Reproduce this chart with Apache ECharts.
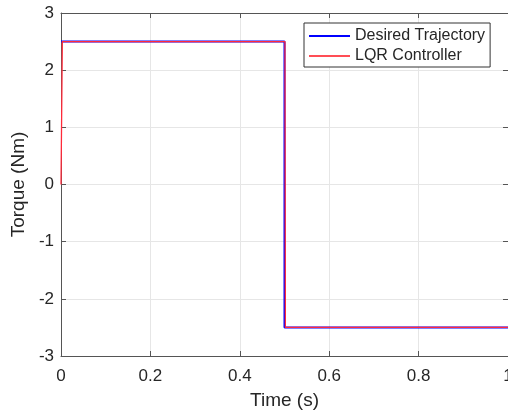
<!DOCTYPE html>
<html><head><meta charset="utf-8">
<script src="https://cdn.jsdelivr.net/npm/echarts@6/dist/echarts.min.js"></script>
<style>html,body{margin:0;padding:0;background:#fff}#c{width:508px;height:417px}</style>
</head><body><div id="c"></div>
<script>
var desiredTime = [0, 0.5, 0.5, 1];
var desiredTorque = [2.5, 2.5, -2.5, -2.5];
var lqrTime = [0, 0.003, 0.501, 0.502, 1];
var lqrTorque = [0, 2.5, 2.5, -2.5, -2.5];
var xTicks = [0, 0.2, 0.4, 0.6, 0.8, 1];
var yTicks = [-3, -2, -1, 0, 1, 2, 3];

function pairs(xs, ys){ return xs.map(function(x,i){ return [x, ys[i]]; }); }

var font = 'Liberation Sans, Arial, sans-serif';
var txt = '#262626';
var axisCol = '#555555';
var chart = echarts.init(document.getElementById('c'), null, {renderer:'canvas'});
chart.setOption({
  animation:false,
  backgroundColor:'#fff',
  grid:{left:61, top:13, right:0, bottom:61, containLabel:false, outerBoundsMode:'none'},
  legend:{
    orient:'vertical', left:304, top:23,
    data:[{name:'Desired Trajectory', icon:'rect'},{name:'LQR Controller', icon:'rect'}],
    backgroundColor:'#fff', borderColor:'#333', borderWidth:1,
    padding:[3,5,1,5], itemWidth:41, itemHeight:2, itemGap:0,
    textStyle:{fontFamily:font, fontSize:16, color:txt, lineHeight:20}
  },
  xAxis:[{
    type:'value', min:0, max:1, interval:0.2, position:'bottom',
    name:'Time (s)', nameLocation:'middle', nameGap:35,
    nameTextStyle:{fontFamily:font, fontSize:19, color:txt},
    axisLine:{show:true, onZero:false, lineStyle:{color:axisCol, width:1}},
    axisTick:{show:true, inside:true, length:5, lineStyle:{color:axisCol}},
    axisLabel:{fontFamily:font, fontSize:17, color:txt, margin:12, hideOverlap:false,
      formatter:function(v){ var r = Math.round(v*10)/10; return xTicks.indexOf(r) >= 0 ? String(r) : ''; }},
    splitLine:{show:true, lineStyle:{color:'#e6e6e6', width:1}}
  },{
    type:'value', min:0, max:1, interval:0.2, position:'top',
    axisLine:{show:true, onZero:false, lineStyle:{color:axisCol, width:1}},
    axisTick:{show:true, inside:true, length:5, lineStyle:{color:axisCol}},
    axisLabel:{show:false}, splitLine:{show:false}
  }],
  yAxis:[{
    type:'value', min:-3, max:3, interval:1, position:'left',
    name:'Torque (Nm)', nameLocation:'middle', nameGap:29, nameRotate:90,
    nameTextStyle:{fontFamily:font, fontSize:19, color:txt},
    axisLine:{show:true, onZero:false, lineStyle:{color:axisCol, width:1}},
    axisTick:{show:true, inside:true, length:5, lineStyle:{color:axisCol}},
    axisLabel:{fontFamily:font, fontSize:17, color:txt, margin:7},
    splitLine:{show:true, lineStyle:{color:'#e6e6e6', width:1}}
  },{
    type:'value', min:-3, max:3, interval:1, position:'right',
    axisLine:{show:true, onZero:false, lineStyle:{color:axisCol, width:1}},
    axisTick:{show:true, inside:true, length:5, lineStyle:{color:axisCol}},
    axisLabel:{show:false}, splitLine:{show:false}
  }],
  series:[{
    name:'Desired Trajectory', type:'line', symbol:'none', showSymbol:false, xAxisIndex:0, yAxisIndex:0,
    data:pairs(desiredTime, desiredTorque),
    lineStyle:{color:'#0000ff', width:2}, itemStyle:{color:'#0000ff'}
  },{
    name:'LQR Controller', type:'line', symbol:'none', showSymbol:false, xAxisIndex:0, yAxisIndex:0,
    data:pairs(lqrTime, lqrTorque),
    lineStyle:{color:'#ff2a3a', width:1.3}, itemStyle:{color:'#ff4d55'}
  }]
});
</script></body></html>
